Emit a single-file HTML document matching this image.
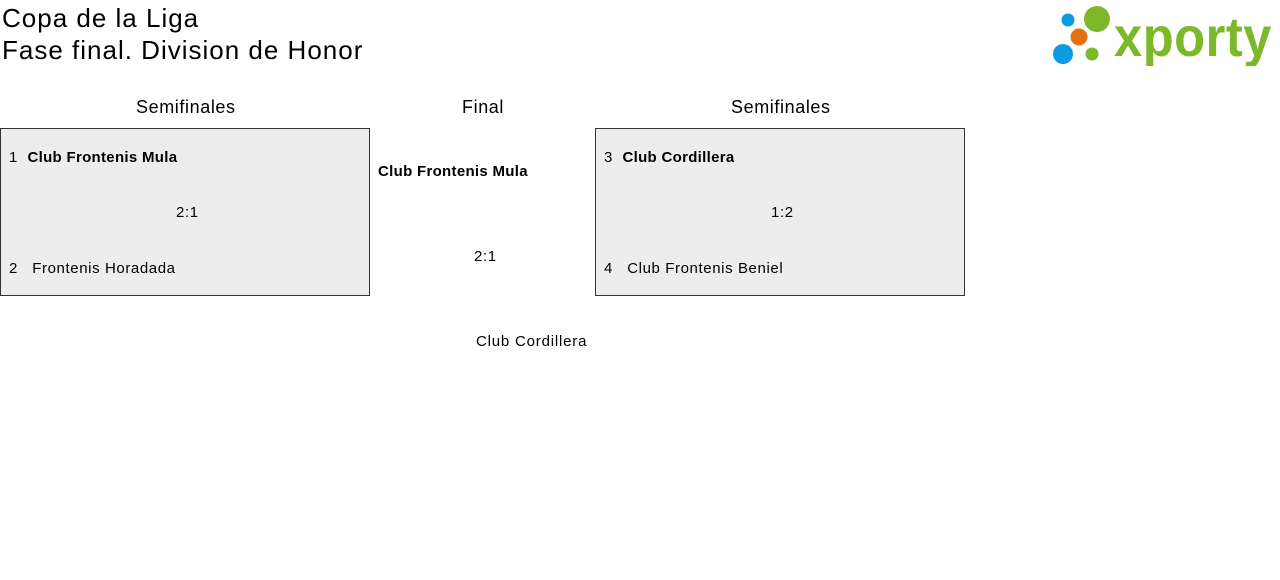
<!DOCTYPE html>
<html><head><meta charset="utf-8"><style>
body{margin:0;width:1280px;height:580px;background:#fff;font-family:"Liberation Sans",sans-serif;color:#000;position:relative;overflow:hidden}
.a{position:absolute;white-space:nowrap;letter-spacing:0.6px}
.box{position:absolute;background:#ededed;border:1px solid #333;box-sizing:border-box}
</style></head><body>
<div class="a" style="left:2px;top:2px;font-size:26px;line-height:32px;letter-spacing:1px">Copa de la Liga<br>Fase final. Division de Honor</div>
<svg class="a" style="left:1050px;top:4px" width="226" height="62">
<circle cx="18" cy="16" r="6.5" fill="#0a9be0"/>
<circle cx="47" cy="15" r="13" fill="#7db828"/>
<circle cx="29" cy="33" r="8.5" fill="#e4700e"/>
<circle cx="13" cy="50" r="10" fill="#0a9be0"/>
<circle cx="42" cy="50" r="6.5" fill="#7db828"/>
<text x="64" y="52" font-family="Liberation Sans" font-weight="bold" font-size="56" fill="#7db828" textLength="158" lengthAdjust="spacingAndGlyphs">xporty</text>
</svg>
<div class="a" style="left:136px;top:97px;font-size:18px">Semifinales</div>
<div class="a" style="left:462px;top:97px;font-size:18px">Final</div>
<div class="a" style="left:731px;top:97px;font-size:18px">Semifinales</div>
<div class="box" style="left:0;top:128px;width:370px;height:168px"></div>
<div class="box" style="left:595px;top:128px;width:370px;height:168px"></div>
<div class="a" style="left:9px;top:149px;font-size:15px">1 &nbsp;<b style="letter-spacing:0.3px">Club Frontenis Mula</b></div>
<div class="a" style="left:176px;top:204px;font-size:15px">2:1</div>
<div class="a" style="left:9px;top:260px;font-size:15px">2 &nbsp; Frontenis Horadada</div>
<div class="a" style="left:604px;top:149px;font-size:15px">3 &nbsp;<b style="letter-spacing:0.3px">Club Cordillera</b></div>
<div class="a" style="left:771px;top:204px;font-size:15px">1:2</div>
<div class="a" style="left:604px;top:260px;font-size:15px">4 &nbsp; Club Frontenis Beniel</div>
<div class="a" style="left:378px;top:163px;font-size:15px;font-weight:bold;letter-spacing:0.3px">Club Frontenis Mula</div>
<div class="a" style="left:474px;top:248px;font-size:15px">2:1</div>
<div class="a" style="left:476px;top:333px;font-size:15px;letter-spacing:0.8px">Club Cordillera</div>
</body></html>
